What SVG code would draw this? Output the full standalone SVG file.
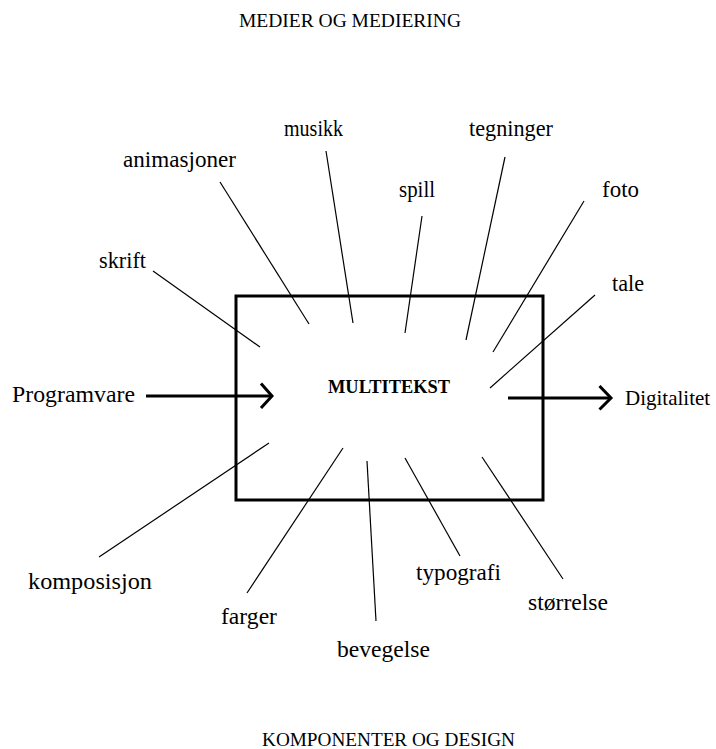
<svg xmlns="http://www.w3.org/2000/svg" width="716" height="749" viewBox="0 0 716 749">
<style>
.lbl{font-family:"Liberation Serif","Times New Roman",serif;font-size:23px;fill:#000}
.cap{font-family:"Liberation Serif","Times New Roman",serif;font-size:19px;fill:#000}
.bold{font-family:"Liberation Serif","Times New Roman",serif;font-size:19px;font-weight:bold;fill:#000}
.ln{stroke:#000;stroke-width:1.2;fill:none}
.arr{stroke:#000;stroke-width:3;fill:none}
</style>
<rect width="716" height="749" fill="#fff"/>
<text class="cap" x="239" y="27" textLength="222" lengthAdjust="spacingAndGlyphs">MEDIER OG MEDIERING</text>
<text class="cap" x="262" y="746" textLength="253" lengthAdjust="spacingAndGlyphs">KOMPONENTER OG DESIGN</text>
<g id="multitekst">
<rect x="236" y="296" width="307" height="204" fill="none" stroke="#000" stroke-width="3"/>
<text class="bold" x="328" y="393" textLength="122" lengthAdjust="spacingAndGlyphs">MULTITEKST</text>
</g>
<g id="programvare"><text class="lbl" x="12" y="402" textLength="123" lengthAdjust="spacingAndGlyphs">Programvare</text></g>
<g id="digitalitet"><text class="lbl" x="625" y="405" style="font-size:21px">Digitalitet</text></g>
<g id="skrift"><text class="lbl" x="99" y="268" textLength="47" lengthAdjust="spacingAndGlyphs">skrift</text></g>
<g id="animasjoner"><text class="lbl" x="123" y="167" textLength="113" lengthAdjust="spacingAndGlyphs">animasjoner</text></g>
<g id="musikk"><text class="lbl" x="284" y="136" textLength="59" lengthAdjust="spacingAndGlyphs">musikk</text></g>
<g id="spill"><text class="lbl" x="399" y="197" textLength="36" lengthAdjust="spacingAndGlyphs">spill</text></g>
<g id="tegninger"><text class="lbl" x="469" y="136" textLength="84" lengthAdjust="spacingAndGlyphs">tegninger</text></g>
<g id="foto"><text class="lbl" x="602" y="197" textLength="37" lengthAdjust="spacingAndGlyphs">foto</text></g>
<g id="tale"><text class="lbl" x="612" y="291" textLength="32" lengthAdjust="spacingAndGlyphs">tale</text></g>
<g id="komposisjon"><text class="lbl" x="28" y="589" textLength="124" lengthAdjust="spacingAndGlyphs">komposisjon</text></g>
<g id="farger"><text class="lbl" x="221" y="624" textLength="56" lengthAdjust="spacingAndGlyphs">farger</text></g>
<g id="bevegelse"><text class="lbl" x="337" y="657" textLength="93" lengthAdjust="spacingAndGlyphs">bevegelse</text></g>
<g id="typografi"><text class="lbl" x="416" y="580" textLength="85" lengthAdjust="spacingAndGlyphs">typografi</text></g>
<g id="storrelse"><text class="lbl" x="528" y="610" textLength="80" lengthAdjust="spacingAndGlyphs">størrelse</text></g>
<g id="connectors">
<line class="ln" x1="153" y1="271" x2="260" y2="347"/>
<line class="ln" x1="220" y1="182" x2="309" y2="324"/>
<line class="ln" x1="326" y1="151" x2="353" y2="323"/>
<line class="ln" x1="422" y1="216" x2="405" y2="333"/>
<line class="ln" x1="505" y1="157" x2="466" y2="340"/>
<line class="ln" x1="584" y1="201" x2="493" y2="352"/>
<line class="ln" x1="595" y1="295" x2="490" y2="388"/>
<line class="ln" x1="269" y1="443" x2="99" y2="557"/>
<line class="ln" x1="343" y1="448" x2="247" y2="593"/>
<line class="ln" x1="367" y1="461" x2="376" y2="621"/>
<line class="ln" x1="405" y1="458" x2="460" y2="556"/>
<line class="ln" x1="482" y1="457" x2="563" y2="579"/>
<line class="arr" x1="146" y1="396" x2="272" y2="396"/>
<polyline class="arr" points="261,383.5 272,396 261,408"/>
<line class="arr" x1="508" y1="398" x2="611" y2="398"/>
<polyline class="arr" points="599.5,386 611,398 599.5,409.5"/>
</g>
</svg>
